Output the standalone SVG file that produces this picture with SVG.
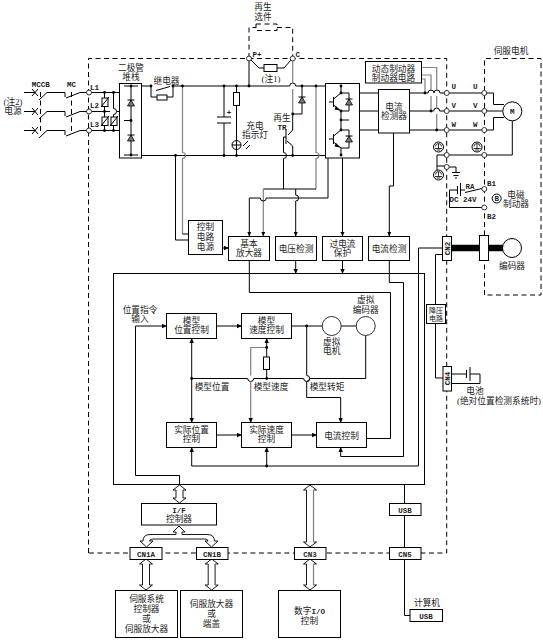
<svg xmlns="http://www.w3.org/2000/svg" width="543" height="642" viewBox="0 0 543 642">
<style>
text{font-family:"Liberation Serif","Noto Sans CJK SC",serif;font-size:8.7px;fill:#222;text-anchor:middle}
.m{font-family:"Liberation Mono","Noto Sans CJK SC",monospace;font-size:7.5px;font-weight:bold}
.s{font-size:7px}
.l{text-anchor:start}
.w{fill:none;stroke:#000;stroke-width:1}
.g{fill:none;stroke:#808080;stroke-width:1.2}
.d{fill:none;stroke:#000;stroke-width:1;stroke-dasharray:5 3.5}
.b{fill:#fff;stroke:#000;stroke-width:1}
.c{fill:#fff;stroke:#333;stroke-width:1}
.a{marker-end:url(#ah)}
.h{fill:#fff;stroke:#000;stroke-width:.9}
</style>
<defs>
<marker id="ah" markerUnits="userSpaceOnUse" markerWidth="5" markerHeight="5" refX="4.5" refY="2.5" orient="auto"><path d="M0 .3L5 2.5L0 4.7Z" fill="#000"/></marker>
<g id="dot"><circle r="1.4" fill="#000"/></g>
<g id="term"><circle r="2.5" fill="#fff" stroke="#333"/></g>
<g id="diode"><path d="M-3.5 3L3.5 3L0 -3Z" fill="#777" stroke="#000" stroke-width=".8"/><path d="M-3.500 -3H3.500" stroke="#000"/></g>
<g id="igbt"><path d="M-8 0H-4M-3.500 -5V5M-3.500 -3L4 -9M-3.500 3L4 9" class="w"/><path d="M-1 4L3 8.500L-2.500 7.500Z" fill="#000"/></g>
<g id="gnd"><circle r="5" fill="#fff" stroke="#000"/><path d="M-3.500 1.500H3.500M-2 3H2M0 -3V1.500" stroke="#000" stroke-width=".8"/><path d="M-3 -.5A3 3 0 0 1 3 -.5" fill="none" stroke="#000" stroke-width=".8"/></g>
</defs>
<rect width="543" height="642" fill="#fff"/>

<g id="boundaries">
<path class="d" d="M88.500 553V58.500H446.700V553H88.500"/>
<path class="d" d="M484.500 295V58.500H541V295H484.500"/>
<path class="d" d="M249 58V27.500H256M277 27.500H292.700V58"/>
<rect class="d" x="256" y="24" width="21" height="6.500"/>
<path class="d" d="M40.500 92V134M71.500 92V134" stroke-dasharray="4 3"/>
</g>

<g id="connectors">
<path class="w" d="M24 92.500H35M39 100L47 92.500H65V97M66 98L80 92.500H89M24 111.500H35M39 119L47 111.500H65V116M66 117L80 111.500H89M24 130.500H35M39 138L47 130.500H65V135M66 136L80 130.500H89"/>
<path class="w" d="M32 89L38 96M38 89L32 96M32 108L38 115M38 108L32 115M32 127L38 134M38 127L32 134"/>
<path class="w" d="M89 92.500H119.500M89 111.500H110M89 130.500H119.500M104.500 92.500V130.500M113.500 92.500V108.500a3 3 0 0 1 0 6V130.500M116.500 111.500H119.500"/>
<path class="w" d="M141.500 86H151M173 86H289.700a3 3 0 0 1 6 0H325.500M141.500 155.500H325.500"/>
<path class="w" d="M151 86V97H157M167 97H173V86M156 90.500L170 86.500"/>
<path class="g" d="M182.500 86V152.500a3 3 0 0 1 0 6V234"/>
<path class="w" d="M182.500 234H188.500"/>
<path class="w" d="M175.500 155.500V240H188.500"/>
<path class="w a" d="M222.500 248H228.500"/>
<path class="w" d="M224 86V117M224 123V155.500M217 117H231M217 123H231"/>
<path class="w" d="M236.500 86V155.500"/>
<path class="w" d="M251 60L259 68H264M277 68H284L291 60"/>
<path class="w" d="M249 58.500V86"/>
<path class="g" d="M292.700 58.500V83M292.700 89V114"/>
<path class="w" d="M292.700 114V130L288 135M287 141L292.700 146V155.500M302 86V114H292.700"/>
<path class="w" d="M286 129V144M286 137H283.500V152.500a3 3 0 0 1 0 6V189"/>
<path class="g" d="M316 86V152.500a3 3 0 0 1 0 6V189"/>
<path class="w" d="M316 189H263.300"/>
<path class="g a" d="M263.300 189V236"/>
<path class="w a" d="M295.700 189V195a3 3 0 0 1 0 6V236"/>
<path class="w a" d="M328 155.500V198H266.300a3 3 0 0 1 -6 0H249.300V236"/>
<path class="w a" d="M342.500 155.500V236"/>
<path class="w a" d="M393.500 133V186H389.300V236"/>
<path class="w" d="M359.500 93H378.500M359.500 111H378.500M359.500 130H378.500M409.500 93H428a3 3 0 0 1 6 0a3 3 0 0 1 6 0H484M409.500 111H433.700a3 3 0 0 1 6 0H502.500M409.500 130H484M484 93H493.500V104.500H504M484 130H493.500V117.500H504"/>
<path class="g" d="M421.500 67.500H436.700V90M436.700 96V108M436.700 114V130M421.500 75H431V90M431 96V111M421.500 79H425V93"/>
<path class="w" d="M512.300 121V155H446.700M446.700 155H437V166H446.700M437 166V170M446.700 167H456V172M452 172.500H460M453.500 175.500H458.500M455 178H457"/>
<path class="w" d="M484 188L465 192.500M460.500 190H465M457.500 190H449.500V207.500H484M457.500 186V194M460.500 183V196"/>
<path d="M451.500 248H503" stroke="#000" stroke-width="6.500" fill="none"/>
<path class="w" d="M442.500 248H418.500V466H191.700"/>
<path class="w" d="M442.500 254.500H435.500V304.500M435.500 323V378H443"/>
<path class="w" d="M451.500 374H466M470 374H480V383.500H451.500M466.500 370V378M470 367V381"/>
<path class="w a" d="M295.700 260.500V273.500"/>
<path class="w a" d="M342.500 260.500V273.500"/>
<path class="w" d="M249.300 260.500V292.500H390.500V438.500H366.500"/>
<path class="w a" d="M389.300 260.500V282.500H403.500V456.500H340.700V447.500"/>
<path class="w a" d="M216.500 326H241.500"/>
<path class="w" d="M291.500 326H322M341 326H356"/>
<path class="w" d="M365.700 335.500V378.500H309.700a3 3 0 0 1 -6 0H253.700a3 3 0 0 1 -6 0H191.700"/>
<path class="w a" d="M191.700 378.500V338.500"/>
<path class="w a" d="M191.700 378.500V422.500"/>
<path class="w a" d="M266.700 357V338.500"/>
<path class="w" d="M266.700 369.500V378.500"/>
<path class="g a" d="M266.700 347.500H250.700V375.500M250.700 381.500V422.500"/>
<path class="w a" d="M306.700 326V375.500a3 3 0 0 1 0 6V397.500H340.700V422.500"/>
<path class="w a" d="M216.500 435H241.500"/>
<path class="w a" d="M291.500 435H316.500"/>
<path class="w a" d="M191.700 466V447.500"/>
<path class="w a" d="M266.700 466V447.500"/>
<path class="w a" d="M179.500 484.500V475.500H135.500V326H166.500"/>
<path class="h" d="M179.500 485L186 490H183V498H186L179.500 503L173 498H176V490H173Z"/>
<path class="h" d="M179 526L185 532H182V534.500H207Q214.500 534.500 214.500 541H218L211.500 547L205 541H208Q208 539 205 539H153Q149.500 539 149.500 541H153L146.500 547L140 541H143Q143 534.500 150 534.500H176V532H173Z"/>
<path class="h" d="M310 485L316.500 490H313.500V542H316.500L310 547L303.500 542H306.500V490H303.500Z"/>
<path class="h" d="M310 559L316.500 564H313.500V585H316.500L310 590L303.500 585H306.500V564H303.500Z"/>
<path class="h" d="M146 559L152.500 564H149.500V585H152.500L146 590L139.500 585H142.500V564H139.500Z"/>
<path class="h" d="M211.700 559L218.200 564H215.200V585H218.200L211.700 590L205.200 585H208.200V564H205.200Z"/>
<path class="g" d="M313.500 490V542M313.500 564V585M215.200 564V585"/>
<path class="w" d="M404.500 484.500V503.500M404.500 515.500V547.500M404.500 559.500V615.500H410"/>
</g>

<g id="junctions">
<use href="#dot" x="104.500" y="92.500"/><use href="#dot" x="113.500" y="92.500"/><use href="#dot" x="104.500" y="111.500"/><use href="#dot" x="104.500" y="130.500"/><use href="#dot" x="113.500" y="130.500"/>
<use href="#dot" x="151" y="86"/><use href="#dot" x="173" y="86"/><use href="#dot" x="182.500" y="86"/><use href="#dot" x="175.500" y="155.500"/>
<use href="#dot" x="224" y="86"/><use href="#dot" x="224" y="155.500"/><use href="#dot" x="236.500" y="86"/><use href="#dot" x="236.500" y="155.500"/><use href="#dot" x="249" y="86"/>
<use href="#dot" x="292.700" y="114"/><use href="#dot" x="292.700" y="155.500"/><use href="#dot" x="302" y="86"/><use href="#dot" x="316" y="86"/>
<use href="#dot" x="425" y="93"/><use href="#dot" x="431" y="111"/><use href="#dot" x="436.700" y="130"/>
<use href="#dot" x="306.700" y="326"/><use href="#dot" x="191.700" y="378.500"/><use href="#dot" x="266.700" y="347.500"/><use href="#dot" x="266.700" y="378.500"/><use href="#dot" x="266.700" y="466"/>
</g>

<g id="terminals">
<use href="#term" x="89" y="92.500"/><text class="m l" x="90" y="90">L1</text>
<use href="#term" x="89" y="111.500"/><text class="m l" x="90" y="108">L2</text>
<use href="#term" x="89" y="130.500"/><text class="m l" x="90" y="127">L3</text>
<use href="#term" x="249" y="58.500"/><text class="m l" x="252.500" y="56.500">P+</text>
<use href="#term" x="292.700" y="58.500"/><text class="m l" x="295.500" y="56.500">C</text>
<use href="#term" x="446.700" y="93"/><use href="#term" x="446.700" y="111"/><use href="#term" x="446.700" y="130"/><use href="#term" x="446.700" y="155"/><use href="#term" x="446.700" y="167"/>
<use href="#term" x="484.300" y="93"/><use href="#term" x="484.300" y="111"/><use href="#term" x="484.300" y="130"/><use href="#term" x="484.300" y="155"/><use href="#term" x="484.300" y="189"/><use href="#term" x="484.300" y="207.500"/>
<text class="m l" x="451.500" y="89">U</text><text class="m l" x="473" y="89">U</text><text class="m l" x="451.500" y="108">V</text><text class="m l" x="473" y="108">V</text><text class="m l" x="451.500" y="127">W</text><text class="m l" x="473" y="127">W</text>
<text class="m l" x="487" y="186">B1</text><text class="m l" x="487" y="219">B2</text>
<use href="#gnd" x="438.500" y="147"/><use href="#gnd" x="477" y="147"/><use href="#gnd" x="438.500" y="175"/>
</g>

<g id="labels">
<text x="263" y="10">再生</text><text x="263" y="20">选件</text>
<text x="271" y="82">(注1)</text>
<text class="m" x="40.700" y="87">MCCB</text><text class="m" x="71.500" y="87">MC</text>
<text x="13" y="105">(注2)</text><text x="13" y="114">电源</text>
<text x="131" y="71">二极管</text><text x="131" y="80">堆栈</text>
<text x="166.500" y="84">继电器</text>
<text class="m" x="229" y="115">+</text>
<text x="255" y="129">充电</text><text x="255" y="138">指示灯</text>
<text x="282" y="121">再生</text><text class="m" x="282" y="130">TR</text>
<text x="511" y="54">伺服电机</text>
<text class="m" x="470" y="188.500">RA</text><text class="m" x="463" y="202">DC 24V</text>
<text x="516" y="197.500">电磁</text><text x="516" y="206.500">制动器</text>
<text x="512" y="269">编码器</text>
<text x="475" y="394">电池</text><text class="l" x="457" y="404">(绝对位置检测系统时)</text>
<text x="140" y="312.500">位置指令</text><text x="140" y="322">输入</text>
<text x="365.700" y="303">虚拟</text><text x="365.700" y="312.500">编码器</text>
<text x="331.700" y="345">虚拟</text><text x="331.700" y="354">电机</text>
<text x="212" y="390">模型位置</text><text x="271" y="390">模型速度</text><text x="327" y="390">模型转矩</text>
<text x="427" y="606">计算机</text>
</g>

<g id="rectifier"><rect class="b" x="119.500" y="83.500" width="22" height="74.500"/><path class="w" d="M124 86H138M124 155H138M131 86V155M124 120.500H131"/><use href="#diode" x="131" y="103"/><use href="#diode" x="131" y="138"/><use href="#dot" x="131" y="86"/><use href="#dot" x="131" y="120.500"/><use href="#dot" x="131" y="155"/></g>
<g id="varistors"><rect class="b" x="102" y="98" width="6" height="8.500"/><rect class="b" x="102" y="117" width="6" height="8.500"/><rect class="b" x="111" y="117" width="6" height="8.500"/><path class="w" d="M101 107L109 97M101 126L109 116M110 126L118 116"/></g>
<g id="relay"><rect class="b" x="157" y="95" width="10" height="5"/></g>
<g id="regen-resistor"><rect class="b" x="264" y="64.500" width="13" height="7"/></g>
<g id="charge-lamp"><rect class="b" x="233.500" y="92.500" width="6" height="13"/><circle class="b" cx="236.500" cy="145" r="4.500"/><path class="w" d="M232 145H241M236.500 140.500V149.500"/><path class="w" d="M243 146L248 141M246 149L250 145"/></g>
<g id="regen-diode"><use href="#diode" x="302" y="100"/></g>
<g id="inverter"><rect class="b" x="325.500" y="83.500" width="34" height="74.500"/>
<path class="w" d="M341 86V93H349V111H341M341 111V120H349M341 120V130H349V148H341V155"/>
<use href="#igbt" x="337" y="102"/><use href="#igbt" x="337" y="139"/><use href="#diode" x="349" y="102"/><use href="#diode" x="349" y="139"/>
<use href="#dot" x="341" y="86"/><use href="#dot" x="341" y="93"/><use href="#dot" x="341" y="111"/><use href="#dot" x="341" y="120"/><use href="#dot" x="341" y="130"/><use href="#dot" x="341" y="155"/></g>
<g id="dynamic-brake"><rect class="b" x="365.500" y="61.500" width="56" height="21.500"/><text x="393.500" y="72">动态制动器</text><text x="393.500" y="81">制动器电路</text></g>
<g id="current-detector"><rect class="b" x="378.500" y="89.500" width="31" height="43.500"/><text x="394" y="110">电流</text><text x="394" y="119">检测器</text></g>
<g id="motor"><circle class="b" cx="512.300" cy="111.300" r="9.500"/><text class="m" x="512.300" y="114">M</text></g>
<g id="brake"><circle class="b" cx="496.700" cy="198.500" r="4.500"/><text class="m" x="496.700" y="201">B</text></g>
<g id="encoder"><rect class="b" x="479.500" y="235.500" width="9" height="25"/><circle class="b" cx="512" cy="248" r="9.500"/></g>
<g id="control-power"><rect class="b" x="188.500" y="220.500" width="34" height="34"/><text x="205.500" y="230">控制</text><text x="205.500" y="240">电路</text><text x="205.500" y="250">电源</text></g>
<g id="base-amp"><rect class="b" x="228.500" y="236.500" width="41" height="24"/><text x="249" y="247">基本</text><text x="249" y="256">放大器</text></g>
<g id="voltage-detect"><rect class="b" x="275.500" y="236.500" width="41" height="24"/><text x="296" y="252">电压检测</text></g>
<g id="overcurrent"><rect class="b" x="322.500" y="236.500" width="40" height="24"/><text x="342.500" y="247">过电流</text><text x="342.500" y="256">保护</text></g>
<g id="current-detect"><rect class="b" x="368.500" y="236.500" width="41" height="24"/><text x="389" y="252">电流检测</text></g>
<g id="cn2"><rect class="b" x="442.500" y="236.500" width="9" height="24"/><text class="m" transform="translate(449.500 248.500) rotate(-90)">CN2</text></g>
<g id="stepdown"><rect class="b" x="426.500" y="304.500" width="19" height="19"/><text class="s" x="436" y="313">降压</text><text class="s" x="436" y="321">电路</text></g>
<g id="cn4"><rect class="b" x="443" y="366.500" width="8.500" height="24.500"/><text class="m" transform="translate(449.700 378.500) rotate(-90)">CN4</text></g>
<rect id="control-board" x="113.500" y="273.500" width="311" height="211" fill="none" stroke="#000"/>
<g id="model-pos"><rect class="b" x="166.500" y="313.500" width="50" height="25"/><text x="191.500" y="324">模型</text><text x="191.500" y="333">位置控制</text></g>
<g id="model-speed"><rect class="b" x="241.500" y="313.500" width="50" height="25"/><text x="266.500" y="324">模型</text><text x="266.500" y="333">速度控制</text></g>
<g id="virtual-motor"><circle class="c" cx="331.700" cy="326" r="9.500"/></g>
<g id="virtual-encoder"><circle class="c" cx="365.700" cy="326" r="9.500"/></g>
<g id="gain-resistor"><rect class="b" x="263.500" y="357" width="6" height="12.500"/></g>
<g id="actual-pos"><rect class="b" x="166.500" y="422.500" width="50" height="25"/><text x="191.500" y="433">实际位置</text><text x="191.500" y="442">控制</text></g>
<g id="actual-speed"><rect class="b" x="241.500" y="422.500" width="50" height="25"/><text x="266.500" y="433">实际速度</text><text x="266.500" y="442">控制</text></g>
<g id="current-control"><rect class="b" x="316.500" y="422.500" width="50" height="25"/><text x="341.500" y="438.500">电流控制</text></g>
<g id="if-controller"><rect class="b" x="141.500" y="503.500" width="75" height="21.500"/><text class="m" x="179" y="512.500">I/F</text><text x="179" y="522">控制器</text></g>
<g id="cn1a"><rect class="b" x="130" y="547.500" width="32" height="12"/><text class="m" x="146" y="556.500">CN1A</text></g>
<g id="cn1b"><rect class="b" x="196.500" y="547.500" width="31.500" height="12"/><text class="m" x="212" y="556.500">CN1B</text></g>
<g id="cn3"><rect class="b" x="294.500" y="547.500" width="31.500" height="12"/><text class="m" x="310" y="556.500">CN3</text></g>
<g id="cn5"><rect class="b" x="389.500" y="547.500" width="31.500" height="12"/><text class="m" x="405" y="556.500">CN5</text></g>
<g id="usb-board"><rect class="b" x="389.500" y="503.500" width="31.500" height="12"/><text class="m" x="405" y="512.500">USB</text></g>
<g id="servo-controller"><rect class="b" x="115.500" y="590.500" width="62" height="47"/><text x="146.500" y="602">伺服系统</text><text x="146.500" y="612">控制器</text><text x="146.500" y="622">或</text><text x="146.500" y="632">伺服放大器</text></g>
<g id="servo-amp"><rect class="b" x="180.500" y="590.500" width="62" height="47"/><text x="211.500" y="607">伺服放大器</text><text x="211.500" y="617">或</text><text x="211.500" y="627">端盖</text></g>
<g id="digital-io"><rect class="b" x="278.500" y="590.500" width="62" height="47"/><text x="309.500" y="614">数字<tspan class="m">I/O</tspan></text><text x="309.500" y="624">控制</text></g>
<g id="usb-pc"><rect class="b" x="410" y="609.500" width="32.500" height="12"/><text class="m" x="426" y="618.500">USB</text></g>
</svg>
